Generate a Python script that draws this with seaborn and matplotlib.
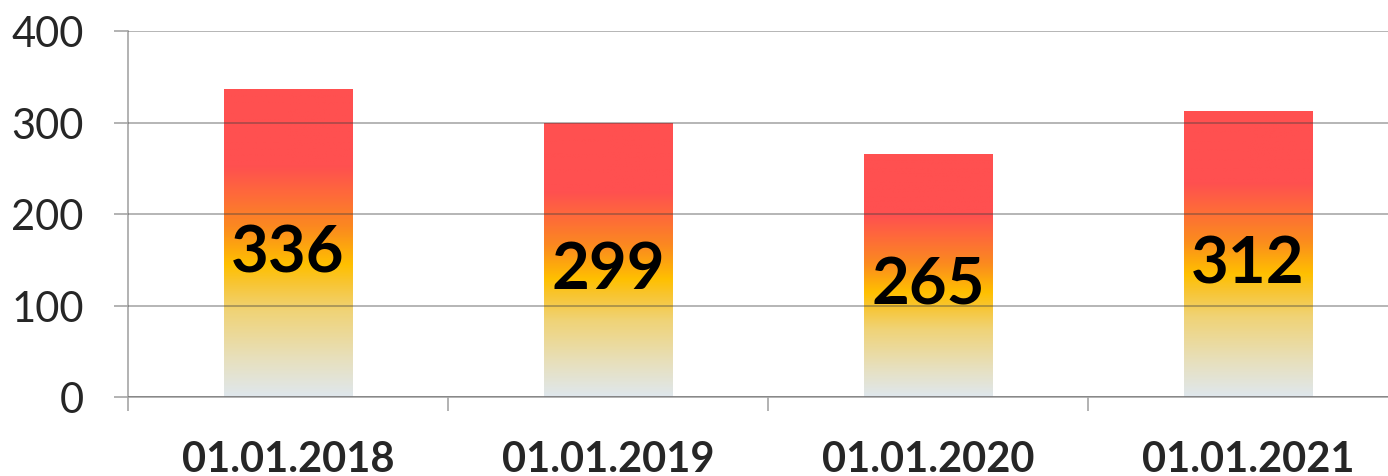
import numpy as np
import pandas as pd
import seaborn as sns
import matplotlib.pyplot as plt
from matplotlib.colors import LinearSegmentedColormap

# chart data
dates = ['01.01.2018', '01.01.2019', '01.01.2020', '01.01.2021']
values = [336, 299, 265, 312]

df = pd.DataFrame({'Date': dates, 'Value': values})

sns.set_theme(style='white')
plt.rcParams['font.family'] = ['Lato', 'DejaVu Sans']

fig = plt.figure(figsize=(13.88, 4.77), dpi=100)
ax = fig.add_axes([128 / 1388, 79 / 477, 1280 / 1388, 366 / 477])

sns.barplot(data=df, x='Date', y='Value', width=0.403, color='#ff5050', ax=ax)

# gradient fill from bottom (grey-blue) to top (red), relative to each bar
grad = LinearSegmentedColormap.from_list('bar_grad', [
    (0.00, '#dfe7ed'),
    (0.12, '#e7e0be'),
    (0.28, '#f0d376'),
    (0.37, '#f8c532'),
    (0.43, '#ffc000'),
    (0.55, '#fb8a1f'),
    (0.65, '#fe6c38'),
    (0.75, '#ff5050'),
    (1.00, '#ff5050'),
])
ramp = np.linspace(0, 1, 256).reshape(-1, 1)
for bar in ax.patches:
    x0, y0 = bar.get_x(), bar.get_y()
    w, h = bar.get_width(), bar.get_height()
    ax.imshow(ramp, cmap=grad, origin='lower', aspect='auto',
              extent=[x0, x0 + w, y0, y0 + h], zorder=bar.get_zorder())
    bar.set_visible(False)

ax.set_xlim(-0.5, len(dates) - 0.5)
ax.set_ylim(0, 400)
ax.set_yticks([0, 100, 200, 300, 400])

# value labels in the middle of the bars
for i, v in enumerate(values):
    ax.annotate(str(v), (i, v / 2), xytext=(0, -20), textcoords='offset points',
                ha='center', va='baseline', fontsize=47, fontweight='bold',
                color='black', zorder=5)

ax.yaxis.grid(True, color='#404040', alpha=0.45, linewidth=1.2)
ax.set_axisbelow(False)
for side in ['top', 'right']:
    ax.spines[side].set_visible(False)
ax.spines['left'].set_color('#a6a6a6')
ax.spines['bottom'].set_color('#a6a6a6')
ax.spines['left'].set_linewidth(1.2)
ax.spines['bottom'].set_linewidth(1.2)

ax.set_xticks(np.arange(-0.5, len(dates), 1.0), minor=True)
ax.tick_params(axis='x', which='minor', bottom=True, length=10,
               width=1.2, color='#a6a6a6')
ax.tick_params(axis='x', which='major', bottom=False, length=0, pad=31,
               labelsize=30)
ax.tick_params(axis='y', left=True, length=10, width=1.2, color='#a6a6a6',
               pad=22, labelsize=30)
for lbl in ax.get_xticklabels():
    lbl.set_fontweight('bold')

ax.set_xlabel('')
ax.set_ylabel('')

fig.savefig('out.png', dpi=100)
